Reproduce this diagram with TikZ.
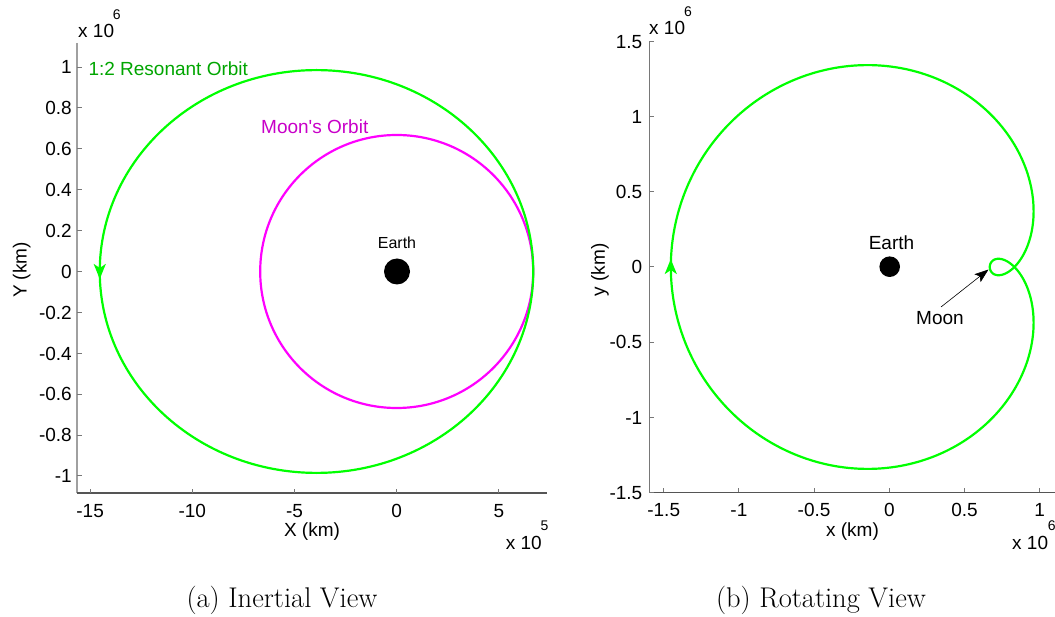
\documentclass[tikz,border=0pt]{standalone}
\usepackage{fontspec}
\newfontfamily\arialf{Liberation Sans}
\usetikzlibrary{arrows.meta}
\definecolor{orbgreen}{RGB}{0,255,0}
\definecolor{orbmag}{RGB}{255,0,255}
\definecolor{txtgreen}{RGB}{0,165,0}
\definecolor{txtmag}{RGB}{200,0,200}
\definecolor{axgrayA}{RGB}{160,160,160}
\definecolor{axgrayB}{RGB}{85,85,85}
\definecolor{axgrayC}{RGB}{120,120,120}
\begin{document}
\begin{tikzpicture}[x=1pt,y=-1pt,
  lab/.style={font=\arialf\fontsize{19}{22}\selectfont, inner sep=0pt},
  smalllab/.style={font=\arialf\fontsize{16}{19}\selectfont, inner sep=0pt},
  explab/.style={font=\arialf\fontsize{14}{16}\selectfont, inner sep=0pt},
  caplab/.style={font=\fontsize{28.5}{33}\selectfont, inner sep=0pt},
  yaxisL/.style={draw=axgrayA, line width=2pt},
  xaxisL/.style={draw=axgrayB, line width=1.3pt},
  yaxisR/.style={draw=axgrayC, line width=1pt},
  xaxisR/.style={draw=axgrayB, line width=1.2pt},
  tickmark/.style={draw=axgrayC, line width=1pt},
  orbitline/.style={line width=2.2pt},
  greenarrow/.style={draw=orbgreen, line width=2.2pt, -{Stealth[length=15pt,width=12pt,inset=4pt]}},
  blackarrow/.style={draw=black, line width=0.6pt, -{Stealth[length=14pt,width=10pt,inset=3pt]}},
  planet/.style={circle, fill=black, inner sep=0pt},
  declare function={
    phiang(\t)=2*\t-2*0.37*57.29578*sin(\t);
    xin(\t)=1.0604*(cos(\t)-0.37);
    yin(\t)=0.9851*sin(\t);
    xrot(\t)=xin(\t)*cos(phiang(\t))+yin(\t)*sin(phiang(\t));
    yrot(\t)=-xin(\t)*sin(phiang(\t))+yin(\t)*cos(phiang(\t));
  }]
\useasboundingbox (0,0) rectangle (1055,617);

% ================= LEFT PLOT (Inertial) =================
\coordinate (LO) at (77.3,493);
\coordinate (LT) at (77.3,43);
\coordinate (LR) at (546.7,493);
\draw[yaxisL] (LT) -- (LO);
\draw[xaxisL] (LO) -- (LR);
\foreach \v/\t [count=\i] in {-1/-1,-0.8/-0.8,-0.6/-0.6,-0.4/-0.4,-0.2/-0.2,0/0,0.2/0.2,0.4/0.4,0.6/0.6,0.8/0.8,1/1}{
  \draw[tickmark] (77.3,{271.5-204.4*\v}) -- ++(5,0);
  \node[lab, anchor=base east] (lyt\i) at (72,{271.5-204.4*\v+6.8}) {\t};
}
\foreach \v [count=\i] in {-15,-10,-5,0,5}{
  \draw[tickmark] ({396.7+20.44*\v},493) -- ++(0,-4);
  \node[lab, anchor=base] (lxt\i) at ({396.7+20.44*\v},517) {\v};
}
\node[lab, anchor=west] (lyexp) at (78,30.7) {x 10};
\node[explab] (lyexpn) at (116.7,15) {6};
\node[lab, anchor=west] (lxexp) at (505.7,543.3) {x 10};
\node[explab] (lxexpn) at (544.5,526) {5};
\node[lab, rotate=90] (lylab) at (21.7,270) {Y (km)};
\node[lab] (lxlab) at (312,532) {X (km)};

% orbits
\draw[orbitline, draw=orbmag] (396.7,271.5) circle (136.5);
\draw[orbitline, draw=orbgreen] (316.5,271.5) ellipse [x radius=216.75, y radius=201.4];
\coordinate (aL1) at (99.75,262);
\coordinate (aL2) at (99.75,279);
\draw[greenarrow] (aL1) -- (aL2);
\node[planet, minimum size=26pt] (earthL) at (397,271.5) {};
\node[smalllab] (earthLlab) at (397,243) {Earth};
\node[lab, anchor=west, text=txtgreen] (resL) at (88.3,68.3) {1:2 Resonant Orbit};
\node[lab, anchor=west, text=txtmag] (moonL) at (261,126.7) {Moon's Orbit};

\node[caplab] (capa) at (282,600) {(a) Inertial View};

% ================= RIGHT PLOT (Rotating) =================
\coordinate (RO) at (649.3,492.3);
\coordinate (RT) at (649.3,41.3);
\coordinate (RR) at (1055,492.3);
\draw[yaxisR] (RT) -- (RO);
\draw[xaxisR] (RO) -- (RR);
\foreach \v/\t [count=\i] in {-1.5/-1.5,-1/-1,-0.5/-0.5,0/0,0.5/0.5,1/1,1.5/1.5}{
  \draw[tickmark] (649.3,{267-150.4*\v}) -- ++(5,0);
  \node[lab, anchor=base east] (ryt\i) at (642.5,{267-150.4*\v+6.8}) {\t};
}
\foreach \v/\t [count=\i] in {-1.5/-1.5,-1/-1,-0.5/-0.5,0/0,0.5/0.5,1/1}{
  \draw[tickmark] ({889.3+150.4*\v},492.3) -- ++(0,-4);
  \node[lab, anchor=base] (rxt\i) at ({889.3+150.4*\v},516) {\t};
}
\node[lab, anchor=west] (ryexp) at (649,28.3) {x 10};
\node[explab] (ryexpn) at (688,11.7) {6};
\node[lab, anchor=west] (rxexp) at (1012,543) {x 10};
\node[explab] (rxexpn) at (1051.7,526) {6};
\node[lab, rotate=90] (rylab) at (600,270) {y (km)};
\node[lab] (rxlab) at (852.5,532) {x (km)};

\draw[orbitline, draw=orbgreen, line join=round]
  plot[domain=0:360, samples=721, variable=\t, smooth] ({889.3+150.4*xrot(\t)},{267-150.4*yrot(\t)});
\coordinate (aR1) at (670.8,276);
\coordinate (aR2) at (670.8,259);
\draw[greenarrow] (aR1) -- (aR2);

\node[planet, minimum size=20.6pt] (earthR) at (889.7,266.7) {};
\node[lab] (earthRlab) at (891.5,242.7) {Earth};
\node[lab] (moonR) at (940,318) {Moon};
\coordinate (moonstart) at (941,307);
\coordinate (moontip) at (988.5,269.5);
\draw[blackarrow] (moonstart) -- (moontip);

\node[caplab] (capb) at (821,600) {(b) Rotating View};
\end{tikzpicture}
\end{document}
